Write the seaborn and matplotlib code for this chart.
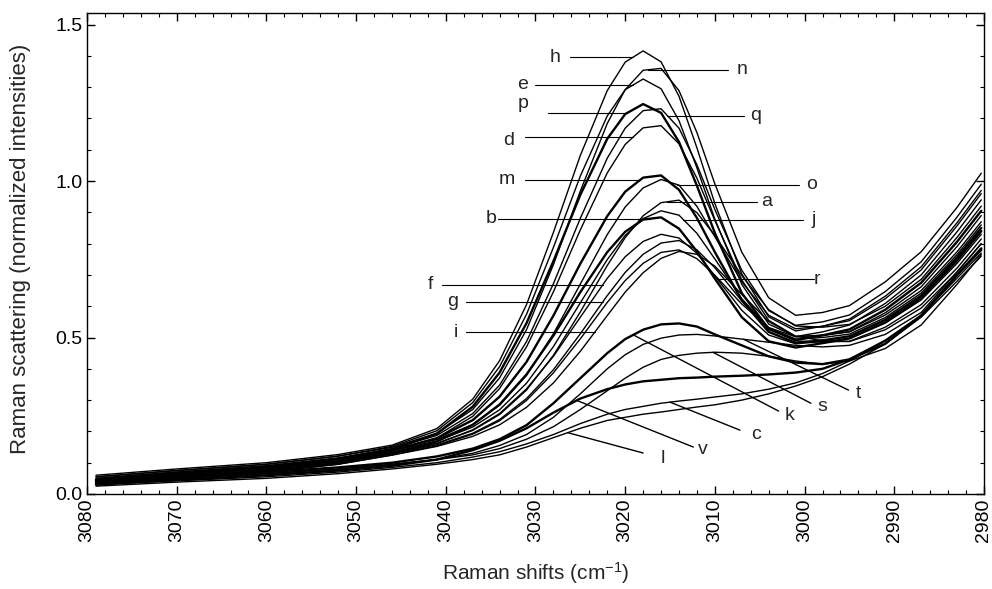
import numpy as np
import pandas as pd
import matplotlib
matplotlib.use('Agg')
import matplotlib.pyplot as plt
from matplotlib.ticker import MultipleLocator
import seaborn as sns

shifts = [3079, 3070, 3060, 3052, 3046, 3041, 3037, 3034, 3031, 3028, 3025, 3022, 3020,
          3018, 3016, 3014, 3012, 3010, 3007, 3004, 3001, 2998, 2995, 2991, 2987, 2983, 2980.3]

# upper group (strong band near 3017)
curve_h = [0.06, 0.08, 0.10, 0.126, 0.156, 0.209, 0.303, 0.426, 0.605, 0.836, 1.082, 1.289, 1.38,
           1.416, 1.381, 1.271, 1.106, 0.928, 0.703, 0.566, 0.521, 0.536, 0.559, 0.632, 0.726, 0.867, 0.97]
curve_n = [0.055, 0.075, 0.095, 0.121, 0.149, 0.194, 0.27, 0.371, 0.525, 0.733, 0.968, 1.184, 1.292,
           1.354, 1.36, 1.289, 1.155, 0.991, 0.773, 0.627, 0.571, 0.58, 0.602, 0.678, 0.774, 0.916, 1.025]
curve_e = [0.055, 0.075, 0.095, 0.121, 0.152, 0.202, 0.292, 0.407, 0.574, 0.788, 1.016, 1.208, 1.292,
           1.326, 1.295, 1.193, 1.042, 0.878, 0.67, 0.543, 0.503, 0.518, 0.54, 0.609, 0.70, 0.838, 0.94]
curve_p = [0.045, 0.065, 0.085, 0.111, 0.143, 0.193, 0.279, 0.388, 0.546, 0.744, 0.956, 1.135, 1.214,
           1.246, 1.218, 1.125, 0.985, 0.834, 0.642, 0.527, 0.492, 0.507, 0.526, 0.589, 0.675, 0.806, 0.905]
curve_q = [0.05, 0.07, 0.09, 0.115, 0.145, 0.187, 0.257, 0.348, 0.487, 0.672, 0.881, 1.073, 1.169,
           1.225, 1.231, 1.169, 1.052, 0.909, 0.715, 0.586, 0.539, 0.55, 0.572, 0.647, 0.742, 0.885, 0.99]
curve_d = [0.04, 0.06, 0.08, 0.105, 0.137, 0.179, 0.248, 0.337, 0.47, 0.646, 0.844, 1.026, 1.117,
           1.17, 1.177, 1.119, 1.009, 0.874, 0.684, 0.555, 0.504, 0.506, 0.519, 0.579, 0.662, 0.791, 0.89]
curve_m = [0.045, 0.065, 0.085, 0.11, 0.14, 0.178, 0.236, 0.311, 0.422, 0.57, 0.736, 0.888, 0.966,
           1.011, 1.018, 0.972, 0.882, 0.773, 0.619, 0.518, 0.483, 0.491, 0.504, 0.557, 0.634, 0.756, 0.85]
curve_o = [0.05, 0.07, 0.09, 0.115, 0.142, 0.174, 0.222, 0.284, 0.379, 0.512, 0.671, 0.829, 0.917,
           0.978, 1.005, 0.987, 0.919, 0.822, 0.678, 0.571, 0.528, 0.536, 0.554, 0.624, 0.716, 0.857, 0.96]
curve_a = [0.04, 0.06, 0.08, 0.105, 0.133, 0.162, 0.203, 0.254, 0.332, 0.443, 0.582, 0.73, 0.819,
           0.889, 0.931, 0.939, 0.899, 0.826, 0.698, 0.589, 0.537, 0.533, 0.542, 0.60, 0.686, 0.82, 0.92]
curve_j = [0.045, 0.065, 0.085, 0.11, 0.138, 0.169, 0.214, 0.269, 0.354, 0.471, 0.611, 0.749, 0.826,
           0.88, 0.905, 0.891, 0.833, 0.751, 0.624, 0.531, 0.495, 0.50, 0.511, 0.564, 0.642, 0.765, 0.86]
curve_b = [0.035, 0.055, 0.075, 0.10, 0.131, 0.168, 0.221, 0.286, 0.382, 0.506, 0.645, 0.773, 0.838,
           0.877, 0.884, 0.848, 0.775, 0.688, 0.565, 0.488, 0.468, 0.482, 0.497, 0.549, 0.626, 0.746, 0.84]
curve_f = [0.035, 0.055, 0.075, 0.10, 0.129, 0.161, 0.205, 0.257, 0.336, 0.44, 0.565, 0.689, 0.758,
           0.807, 0.83, 0.818, 0.769, 0.697, 0.587, 0.508, 0.48, 0.487, 0.497, 0.546, 0.62, 0.737, 0.83]
curve_g = [0.035, 0.055, 0.075, 0.10, 0.129, 0.157, 0.194, 0.238, 0.305, 0.397, 0.512, 0.634, 0.708,
           0.766, 0.802, 0.81, 0.78, 0.723, 0.617, 0.53, 0.489, 0.486, 0.488, 0.533, 0.605, 0.722, 0.815]
curve_i = [0.03, 0.05, 0.07, 0.095, 0.124, 0.152, 0.184, 0.221, 0.277, 0.355, 0.456, 0.57, 0.645,
           0.707, 0.753, 0.775, 0.766, 0.728, 0.638, 0.551, 0.504, 0.49, 0.487, 0.525, 0.594, 0.709, 0.80]
curve_r = [0.03, 0.05, 0.07, 0.095, 0.125, 0.154, 0.191, 0.234, 0.299, 0.387, 0.496, 0.612, 0.682,
           0.737, 0.772, 0.78, 0.752, 0.699, 0.607, 0.532, 0.502, 0.508, 0.518, 0.572, 0.65, 0.774, 0.87]

# lower group (weak band)
curve_k = [0.04, 0.055, 0.07, 0.085, 0.10, 0.12, 0.145, 0.175, 0.22, 0.29, 0.37, 0.45, 0.495,
           0.525, 0.542, 0.545, 0.535, 0.51, 0.475, 0.44, 0.42, 0.415, 0.43, 0.48, 0.57, 0.70, 0.78]
curve_t = [0.035, 0.05, 0.065, 0.08, 0.095, 0.11, 0.13, 0.155, 0.19, 0.245, 0.32, 0.40, 0.445,
           0.478, 0.498, 0.508, 0.51, 0.505, 0.495, 0.485, 0.475, 0.47, 0.475, 0.51, 0.58, 0.71, 0.80]
curve_s = [0.035, 0.05, 0.065, 0.08, 0.095, 0.11, 0.125, 0.145, 0.175, 0.215, 0.27, 0.33, 0.37,
           0.405, 0.43, 0.443, 0.45, 0.453, 0.45, 0.44, 0.425, 0.415, 0.425, 0.465, 0.54, 0.67, 0.765]
curve_v = [0.03, 0.045, 0.06, 0.075, 0.09, 0.11, 0.14, 0.17, 0.21, 0.26, 0.305, 0.335, 0.35,
           0.36, 0.365, 0.37, 0.372, 0.375, 0.378, 0.382, 0.388, 0.40, 0.43, 0.49, 0.57, 0.70, 0.785]
curve_c = [0.03, 0.042, 0.055, 0.07, 0.085, 0.10, 0.118, 0.135, 0.16, 0.19, 0.225, 0.255, 0.27,
           0.28, 0.29, 0.297, 0.303, 0.31, 0.32, 0.335, 0.355, 0.385, 0.425, 0.49, 0.57, 0.69, 0.77]
curve_l = [0.025, 0.038, 0.05, 0.065, 0.08, 0.095, 0.11, 0.125, 0.15, 0.18, 0.21, 0.235, 0.245,
           0.255, 0.262, 0.27, 0.278, 0.285, 0.30, 0.32, 0.345, 0.375, 0.415, 0.48, 0.565, 0.68, 0.76]

curves = {'a': curve_a, 'b': curve_b, 'c': curve_c, 'd': curve_d, 'e': curve_e, 'f': curve_f,
          'g': curve_g, 'h': curve_h, 'i': curve_i, 'j': curve_j, 'k': curve_k, 'l': curve_l,
          'm': curve_m, 'n': curve_n, 'o': curve_o, 'p': curve_p, 'q': curve_q, 'r': curve_r,
          's': curve_s, 't': curve_t, 'v': curve_v}
bold = ['p', 'm', 'b', 'k', 'v']

# labels with horizontal leaders: name, shift where leader meets curve, leader end, text x, text dy
flat_labels = [('h', 3019.1, 3026.1, 3027.8, 0.0), ('n', 3017.4, 3008.5, 3007.0, 0.0),
               ('e', 3019.1, 3030.1, 3031.4, 0.0), ('p', 3019.8, 3028.6, 3031.4, 0.03),
               ('d', 3019.1, 3031.2, 3033.0, -0.01), ('q', 3015.3, 3006.8, 3005.5, 0.0),
               ('m', 3018.3, 3031.2, 3033.2, 0.0), ('o', 3014.2, 3000.6, 2999.2, 0.0),
               ('a', 3015.3, 3005.3, 3004.2, 0.0), ('j', 3013.5, 3000.2, 2999.0, 0.0),
               ('b', 3017.2, 3034.2, 3035.0, 0.0), ('r', 3009.6, 2999.0, 2998.6, 0.0),
               ('f', 3022.5, 3040.4, 3041.7, 0.0), ('g', 3022.5, 3037.7, 3039.2, 0.0),
               ('i', 3023.4, 3037.7, 3038.9, 0.0)]
# labels with slanted leaders: name, shift on curve, leader end x, end y, text x, text y
slant_labels = [('k', 3019.1, 3002.9, 0.265, 3001.7, 0.25), ('s', 3010.2, 2999.3, 0.29, 2998.0, 0.278),
                ('t', 3006.8, 2995.1, 0.332, 2994.0, 0.32), ('c', 3015.0, 3007.2, 0.204, 3005.4, 0.19),
                ('v', 3025.4, 3012.4, 0.15, 3011.3, 0.142), ('l', 3026.4, 3018.0, 0.131, 3015.8, 0.115)]

sns.set_theme(style='ticks')
plt.rcParams['font.family'] = ['Liberation Sans', 'DejaVu Sans']
plt.rcParams['mathtext.default'] = 'regular'

fig = plt.figure(figsize=(9.92, 5.89), dpi=100)
ax = fig.add_axes([0.0877, 0.1613, 0.9042, 0.8166])

for name, vals in curves.items():
    df = pd.DataFrame({'shift': shifts, 'intensity': vals})
    sns.lineplot(data=df, x='shift', y='intensity', ax=ax, color='black', sort=False,
                 estimator=None, lw=1.7 if name in bold else 1.0)


def curve_y(name, x):
    return np.interp(x, shifts[::-1], curves[name][::-1])


for name, xc, xe, xt, dy in flat_labels:
    yc = curve_y(name, xc)
    ax.plot([xe, xc], [yc, yc], color='black', lw=0.8)
    ax.text(xt, yc + dy, name, fontsize=14, ha='center', va='center')

for name, xc, xe, ye, xt, yt in slant_labels:
    yc = curve_y(name, xc)
    ax.plot([xc, xe], [yc, ye], color='black', lw=1.0)
    ax.text(xt, yt, name, fontsize=14, ha='center', va='center')

ax.set_xlim(3080, 2980)
ax.set_ylim(0, 1.537)
ax.set_xticks(range(2980, 3081, 10))
ax.set_xticklabels([str(v) for v in range(2980, 3081, 10)], rotation=90)
ax.set_yticks([0.0, 0.5, 1.0, 1.5])
ax.set_yticklabels(['0.0', '0.5', '1.0', '1.5'])
ax.xaxis.set_minor_locator(MultipleLocator(2))
ax.yaxis.set_minor_locator(MultipleLocator(0.1))
ax.tick_params(which='both', direction='in', top=True, right=True, colors='black', labelsize=14)
ax.tick_params(which='major', length=6, width=1)
ax.tick_params(which='minor', length=3, width=0.8)
for sp in ax.spines.values():
    sp.set_color('black')
    sp.set_linewidth(1.0)

ax.set_xlabel('Raman shifts (cm$^{-1}$)', fontsize=15)
ax.set_ylabel('Raman scattering (normalized intensities)', fontsize=16)
ax.xaxis.set_label_coords(0.5, -0.137)
ax.yaxis.set_label_coords(-0.062, 0.51)

fig.savefig('out.png', dpi=100, facecolor='white')
